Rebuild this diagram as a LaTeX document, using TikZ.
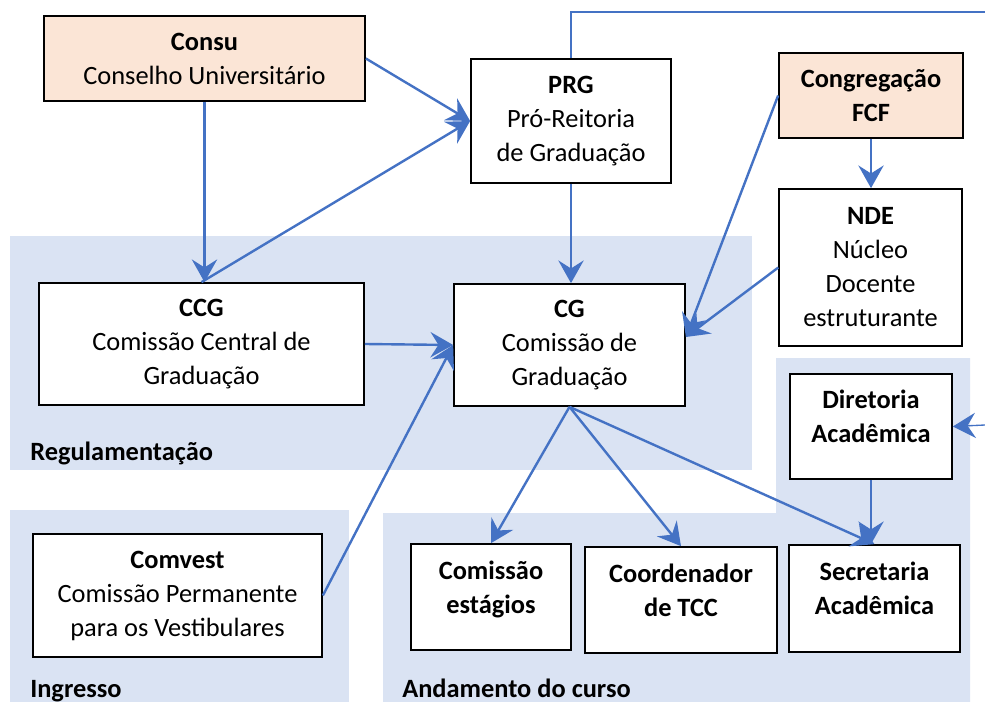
\documentclass[tikz,border=0pt]{standalone}
\usepackage{fontspec}
\setmainfont{Carlito}
\usetikzlibrary{arrows.meta}
\definecolor{azul}{HTML}{4472C4}
\definecolor{fundo}{HTML}{DAE3F3}
\definecolor{pessego}{HTML}{FBE5D6}
\newcommand{\letra}{\fontsize{19.8}{25.5}\selectfont}
\tikzset{
  caixa/.style={draw, line width=1.3pt, fill=white, align=center, inner sep=2pt},
  conselho/.style={caixa, fill=pessego},
  seta/.style={azul, line width=1.8pt, -{Stealth[length=17pt,width=19pt,inset=6pt]}},
  fina/.style={azul, line width=0.8pt},
  rotulo/.style={anchor=base west, font=\letra\bfseries, inner sep=0pt},
  sobe/.style={text depth=15pt},
}

\begin{document}
\begin{tikzpicture}[x=0.75pt, y=-0.75pt, font=\letra]
    \useasboundingbox (0,0) rectangle (985,702);
    % areas
    \fill[fundo] (10,236) rectangle (752,470);
    \fill[fundo] (10,510) rectangle (349,702);
    \fill[fundo] (383,513) -- (776,513) -- (776,358) -- (970,358)
        -- (970,702) -- (383,702) -- cycle;
    \node[rotulo] (reg) at (30,460) {Regulamentação};
    \node[rotulo] (ingresso) at (30,697) {Ingresso};
    \node[rotulo] (andamento) at (402,697) {Andamento do curso};

    % caixas
    \node[conselho, minimum width=240.75pt, minimum height=63.75pt] (consu)
        at (204.5,58.5) {\textbf{Consu}\\Conselho Universitário};
    \node[caixa, minimum width=150pt, minimum height=93pt] (prg)
        at (571,121) {\textbf{PRG}\\Pró-Reitoria\\de Graduação};
    \node[conselho, minimum width=138pt, minimum height=63.75pt] (congr)
        at (871,95.5) {\textbf{Congregação}\\\textbf{FCF}};
    \node[caixa, minimum width=137pt, minimum height=117.75pt] (nde)
        at (870.5,267.5) {\textbf{NDE}\\Núcleo\\Docente\\estruturante};
    \node[caixa, minimum width=243.75pt, minimum height=91.5pt] (ccg)
        at (201.5,344) {\textbf{CCG}\\Comissão Central de\\Graduação};
    \node[caixa, minimum width=173.25pt, minimum height=91.5pt] (cg)
        at (569.5,345) {\textbf{CG}\\Comissão de\\Graduação};
    \node[caixa, minimum width=216.75pt, minimum height=92.25pt] (comvest)
        at (177.5,595.5) {\textbf{Comvest}\\Comissão Permanente\\para os Vestibulares};
    \node[caixa, sobe, minimum width=121.5pt, minimum height=78.75pt] (diretoria)
        at (871,426.5) {\textbf{Diretoria}\\\textbf{Acadêmica}};
    \node[caixa, sobe, minimum width=120pt, minimum height=79.5pt] (estagios)
        at (491,597) {\textbf{Comissão}\\\textbf{estágios}};
    \node[caixa, sobe, minimum width=144pt, minimum height=79.5pt] (tcc)
        at (681,600) {\textbf{Coordenador}\\\textbf{de TCC}};
    \node[caixa, sobe, minimum width=128.25pt, minimum height=80.25pt] (secretaria)
        at (874.5,598.5) {\textbf{Secretaria}\\\textbf{Acadêmica}};

    % ligacoes
    \coordinate (sai) at (985,12);
    \coordinate (entra) at (985,425);
    \draw[fina] (prg.north) |- (sai);
    \draw[seta, line width=1pt] (entra) -- (diretoria.east);
    \draw[seta] (consu.east) -- (prg.west);
    \draw[seta] (consu.south) -- (consu.south |- ccg.north);
    \draw[seta] (ccg.north) -- (prg.west);
    \draw[seta] (prg.south) -- (prg.south |- cg.north);
    \draw[seta] (ccg.east) -- (cg.west);
    \draw[seta] (comvest.east) -- (cg.west);
    \draw[seta] (congr.south) -- (congr.south |- nde.north);
    \draw[seta] (congr.west) -- ([yshift=6pt]cg.east);
    \draw[seta] (nde.west) -- ([yshift=6pt]cg.east);
    \draw[seta] (cg.south) -- (estagios.north);
    \draw[seta] (cg.south) -- (tcc.north);
    \draw[seta] (cg.south) -- (secretaria.north);
    \draw[seta] (diretoria.south) -- (diretoria.south |- secretaria.north);
\end{tikzpicture}
\end{document}
